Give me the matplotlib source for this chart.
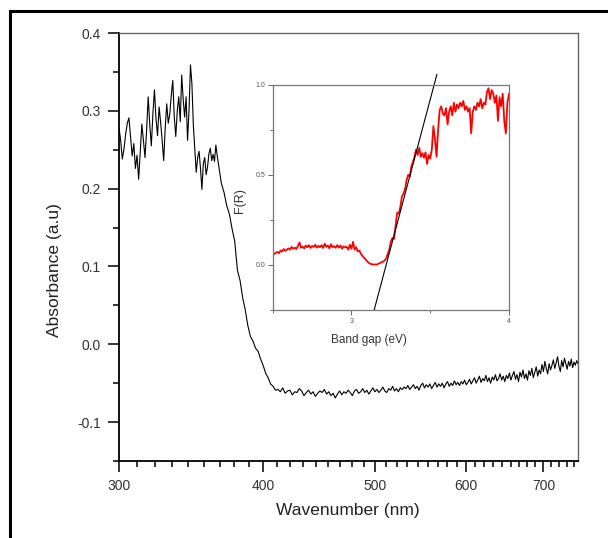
import matplotlib
matplotlib.use("Agg")
import matplotlib.pyplot as plt
from matplotlib.lines import Line2D
from matplotlib.ticker import FixedLocator, NullFormatter, FixedFormatter

plt.rcParams['font.family'] = ['Liberation Sans', 'DejaVu Sans']

# ---------------- main spectrum ----------------
# 300-368 nm (1 nm)
wl_a = [300, 301, 302, 303, 304, 305, 306, 307, 308, 309,
        310, 311, 312, 313, 314, 315, 316, 317, 318, 319,
        320, 321, 322, 323, 324, 325, 326, 327, 328, 329,
        330, 331, 332, 333, 334, 335, 336, 337, 338, 339,
        340, 341, 342, 343, 344, 345, 346, 347, 348, 349,
        350, 351, 352, 353, 354, 355, 356, 357, 358, 359,
        360, 361, 362, 363, 364, 365, 366, 367, 368]
abs_a = [0.278, 0.262, 0.238, 0.251, 0.270, 0.284, 0.291, 0.266, 0.242, 0.258,
         0.226, 0.243, 0.212, 0.248, 0.283, 0.262, 0.240, 0.275, 0.318, 0.282,
         0.255, 0.296, 0.327, 0.290, 0.268, 0.305, 0.285, 0.262, 0.236, 0.278,
         0.309, 0.284, 0.296, 0.320, 0.339, 0.292, 0.267, 0.300, 0.318, 0.286,
         0.346, 0.315, 0.292, 0.318, 0.262, 0.300, 0.359, 0.335, 0.281, 0.252,
         0.221, 0.240, 0.248, 0.226, 0.199, 0.232, 0.240, 0.218, 0.228, 0.245,
         0.252, 0.236, 0.244, 0.235, 0.256, 0.242, 0.230, 0.218, 0.207]

# 370-410 nm (2 nm) absorption edge
wl_b = [370, 372, 374, 376, 378, 380, 382, 384, 386, 388,
        390, 392, 394, 396, 398, 400, 402, 404, 406, 408, 410]
abs_b = [0.195, 0.178, 0.167, 0.148, 0.132, 0.095, 0.082, 0.060, 0.044, 0.024,
         0.010, 0.004, -0.005, -0.009, -0.019, -0.027, -0.037, -0.043, -0.051, -0.054, -0.059]

# 412-750 nm (2 nm) baseline
wl_c = [412, 414, 416, 418, 420, 422, 424, 426, 428, 430,
        432, 434, 436, 438, 440, 442, 444, 446, 448, 450,
        452, 454, 456, 458, 460, 462, 464, 466, 468, 470,
        472, 474, 476, 478, 480, 482, 484, 486, 488, 490,
        492, 494, 496, 498, 500, 502, 504, 506, 508, 510,
        512, 514, 516, 518, 520, 522, 524, 526, 528, 530,
        532, 534, 536, 538, 540, 542, 544, 546, 548, 550,
        552, 554, 556, 558, 560, 562, 564, 566, 568, 570,
        572, 574, 576, 578, 580, 582, 584, 586, 588, 590,
        592, 594, 596, 598, 600, 602, 604, 606, 608, 610,
        612, 614, 616, 618, 620, 622, 624, 626, 628, 630,
        632, 634, 636, 638, 640, 642, 644, 646, 648, 650,
        652, 654, 656, 658, 660, 662, 664, 666, 668, 670,
        672, 674, 676, 678, 680, 682, 684, 686, 688, 690,
        692, 694, 696, 698, 700, 702, 704, 706, 708, 710,
        712, 714, 716, 718, 720, 722, 724, 726, 728, 730,
        732, 734, 736, 738, 740, 742, 744, 746, 748, 750]
abs_c = [-0.058, -0.061, -0.056, -0.063, -0.060, -0.059, -0.065, -0.061, -0.062, -0.057,
         -0.060, -0.066, -0.062, -0.059, -0.064, -0.061, -0.067, -0.063, -0.060, -0.062,
         -0.058, -0.064, -0.061, -0.066, -0.063, -0.069, -0.064, -0.060, -0.065, -0.061,
         -0.063, -0.059, -0.062, -0.066, -0.060, -0.058, -0.063, -0.061, -0.057, -0.062,
         -0.059, -0.064, -0.060, -0.056, -0.061, -0.058, -0.062, -0.059, -0.055, -0.060,
         -0.062, -0.057, -0.059, -0.054, -0.060, -0.057, -0.061, -0.056, -0.058, -0.055,
         -0.057, -0.053, -0.058, -0.055, -0.052, -0.057, -0.054, -0.059, -0.053, -0.050,
         -0.056, -0.052, -0.055, -0.051, -0.057, -0.053, -0.049, -0.055, -0.051, -0.054,
         -0.050, -0.056, -0.051, -0.048, -0.054, -0.050, -0.053, -0.047, -0.052, -0.049,
         -0.053, -0.048, -0.051, -0.046, -0.052, -0.049, -0.045, -0.051, -0.047, -0.043,
         -0.050, -0.046, -0.041, -0.049, -0.044, -0.047, -0.040, -0.048, -0.043, -0.050,
         -0.042, -0.046, -0.039, -0.047, -0.044, -0.038, -0.046, -0.041, -0.048, -0.040,
         -0.044, -0.037, -0.046, -0.040, -0.035, -0.045, -0.039, -0.048, -0.036, -0.042,
         -0.033, -0.044, -0.038, -0.046, -0.034, -0.040, -0.031, -0.043, -0.036, -0.029,
         -0.041, -0.033, -0.038, -0.026, -0.035, -0.022, -0.031, -0.038, -0.025, -0.033,
         -0.027, -0.020, -0.031, -0.024, -0.016, -0.028, -0.035, -0.021, -0.029, -0.018,
         -0.025, -0.032, -0.022, -0.028, -0.019, -0.030, -0.023, -0.027, -0.021, -0.025]

main_xticks = [300, 400, 500, 600, 700]
main_xticklabels = ["300", "400", "500", "600", "700"]
main_yticks = [-0.1, 0.0, 0.1, 0.2, 0.3, 0.4]
main_yticklabels = ["-0.1", "0.0", "0.1", "0.2", "0.3", "0.4"]

# ---------------- inset: Kubelka-Munk ----------------
ev = [2.50, 2.51, 2.52, 2.53, 2.54, 2.55, 2.56, 2.57, 2.58, 2.59,
      2.60, 2.61, 2.62, 2.63, 2.64, 2.65, 2.66, 2.67, 2.68, 2.69,
      2.70, 2.71, 2.72, 2.73, 2.74, 2.75, 2.76, 2.77, 2.78, 2.79,
      2.80, 2.81, 2.82, 2.83, 2.84, 2.85, 2.86, 2.87, 2.88, 2.89,
      2.90, 2.91, 2.92, 2.93, 2.94, 2.95, 2.96, 2.97, 2.98, 2.99,
      3.00, 3.01, 3.02, 3.03, 3.04, 3.05, 3.06, 3.07, 3.08, 3.09,
      3.10, 3.11, 3.12, 3.13, 3.14, 3.15, 3.16, 3.17, 3.18, 3.19,
      3.20, 3.21, 3.22, 3.23, 3.24, 3.25, 3.26, 3.27, 3.28, 3.29,
      3.30, 3.31, 3.32, 3.33, 3.34, 3.35, 3.36, 3.37, 3.38, 3.39,
      3.40, 3.41, 3.42, 3.43, 3.44, 3.45, 3.46, 3.47, 3.48, 3.49,
      3.50, 3.51, 3.52, 3.53, 3.54, 3.55, 3.56, 3.57, 3.58, 3.59,
      3.60, 3.61, 3.62, 3.63, 3.64, 3.65, 3.66, 3.67, 3.68, 3.69,
      3.70, 3.71, 3.72, 3.73, 3.74, 3.75, 3.76, 3.77, 3.78, 3.79,
      3.80, 3.81, 3.82, 3.83, 3.84, 3.85, 3.86, 3.87, 3.88, 3.89,
      3.90, 3.91, 3.92, 3.93, 3.94, 3.95, 3.96, 3.97, 3.98, 3.99,
      4.00]
fr = [0.065, 0.060, 0.068, 0.072, 0.065, 0.080, 0.075, 0.088, 0.078, 0.085,
      0.092, 0.085, 0.100, 0.090, 0.096, 0.088, 0.105, 0.125, 0.095, 0.102,
      0.092, 0.108, 0.098, 0.110, 0.095, 0.105, 0.100, 0.112, 0.096, 0.106,
      0.098, 0.110, 0.094, 0.118, 0.100, 0.108, 0.092, 0.115, 0.098, 0.104,
      0.095, 0.110, 0.096, 0.108, 0.090, 0.104, 0.098, 0.100, 0.085, 0.112,
      0.090, 0.128, 0.085, 0.098, 0.075, 0.080, 0.062, 0.050, 0.040, 0.030,
      0.020, 0.012, 0.006, 0.004, 0.002, 0.003, 0.002, 0.006, 0.010, 0.015,
      0.018, 0.025, 0.035, 0.060, 0.085, 0.130, 0.150, 0.145, 0.220, 0.290,
      0.285, 0.320, 0.380, 0.395, 0.420, 0.470, 0.500, 0.490, 0.545, 0.570,
      0.600, 0.640, 0.610, 0.650, 0.600, 0.620, 0.595, 0.625, 0.560, 0.610,
      0.590, 0.640, 0.770, 0.700, 0.600, 0.750, 0.860, 0.880, 0.840, 0.830,
      0.870, 0.780, 0.850, 0.880, 0.830, 0.900, 0.850, 0.890, 0.870, 0.900,
      0.880, 0.910, 0.860, 0.880, 0.850, 0.870, 0.730, 0.850, 0.880, 0.860,
      0.900, 0.880, 0.920, 0.870, 0.900, 0.890, 0.960, 0.980, 0.920, 0.970,
      0.950, 0.900, 0.940, 0.800, 0.930, 0.880, 0.950, 0.800, 0.730, 0.900,
      0.950]
fit_ev = [3.144, 3.542]
fit_fr = [-0.25, 1.056]

inset_xticks = [3, 4]
inset_xticklabels = ["3", "4"]
inset_yticks = [0.0, 0.5, 1.0]
inset_yticklabels = ["0.0", "0.5", "1.0"]

W, H = 608, 538
fig = plt.figure(figsize=(W / 100, H / 100), dpi=100)
fig.patch.set_facecolor('white')

# outer frame (top and left only)
fig.add_artist(Line2D([10 / W, 10 / W], [0, 1 - 11 / H], transform=fig.transFigure,
                      color='black', lw=2.2))
fig.add_artist(Line2D([10 / W, 1], [1 - 11 / H, 1 - 11 / H], transform=fig.transFigure,
                      color='black', lw=2.2))

# ---------- main axes ----------
ax = fig.add_axes([119 / W, 1 - 461 / H, (578 - 119) / W, (461 - 33) / H])
ax.plot(wl_a + wl_b + wl_c, abs_a + abs_b + abs_c, color='black', lw=0.8)
ax.set_xscale('log')
ax.set_xlim(300, 750)
ax.set_ylim(-0.15, 0.4)

ax.xaxis.set_major_locator(FixedLocator(main_xticks))
ax.xaxis.set_major_formatter(FixedFormatter(main_xticklabels))
minor_x = [300 + k * 100 / 9 for k in range(1, 41) if k % 9 != 0]
ax.xaxis.set_minor_locator(FixedLocator([m for m in minor_x if m < 750]))
ax.xaxis.set_minor_formatter(NullFormatter())
ax.yaxis.set_major_locator(FixedLocator(main_yticks))
ax.yaxis.set_major_formatter(FixedFormatter(main_yticklabels))
ax.yaxis.set_minor_locator(FixedLocator([-0.15, -0.05, 0.05, 0.15, 0.25, 0.35]))

ax.tick_params(which='both', direction='out', top=False, right=False,
               width=1.1, colors='black', labelcolor='#333333', labelsize=10)
ax.tick_params(which='major', length=8, pad=5)
ax.tick_params(which='minor', length=4.5)
for s in ['left', 'bottom']:
    ax.spines[s].set_linewidth(1.3)
    ax.spines[s].set_color('black')
for s in ['top', 'right']:
    ax.spines[s].set_linewidth(1.0)
    ax.spines[s].set_color('#666666')

fig.text(55 / W, 1 - 270 / H, "Absorbance (a.u)", rotation=90, ha='center', va='center',
         fontsize=12.5, color='#222222')
fig.text(348 / W, 1 - 510 / H, "Wavenumber (nm)", ha='center', va='center',
         fontsize=12.5, color='#222222')

# ---------- inset axes ----------
ins = fig.add_axes([272.7 / W, 1 - 310 / H, (509 - 272.7) / W, (310 - 84.7) / H])
ins.plot(ev, fr, color='red', lw=1.3)
ins.plot(fit_ev, fit_fr, color='black', lw=0.8, clip_on=False)
ins.set_xlim(2.5, 4.0)
ins.set_ylim(-0.25, 1.0)
ins.xaxis.set_major_locator(FixedLocator(inset_xticks))
ins.xaxis.set_major_formatter(FixedFormatter(inset_xticklabels))
ins.xaxis.set_minor_locator(FixedLocator([2.5, 3.5]))
ins.yaxis.set_major_locator(FixedLocator(inset_yticks))
ins.yaxis.set_major_formatter(FixedFormatter(inset_yticklabels))
ins.yaxis.set_minor_locator(FixedLocator([-0.25, 0.25, 0.75]))
ins.tick_params(which='both', direction='out', top=False, right=False,
                width=0.7, colors='#666666', labelcolor='#555555', labelsize=5)
ins.tick_params(which='major', length=3.5, pad=2)
ins.tick_params(which='minor', length=2)
for s in ins.spines.values():
    s.set_linewidth(0.9)
    s.set_color('#777777')

fig.text(240 / W, 1 - 201 / H, "F(R)", rotation=90, ha='center', va='center',
         fontsize=9, color='#333333')
fig.text(369 / W, 1 - 340 / H, "Band gap (eV)", ha='center', va='center',
         fontsize=8.5, color='#333333')

fig.savefig("out.png", dpi=100, facecolor='white')
